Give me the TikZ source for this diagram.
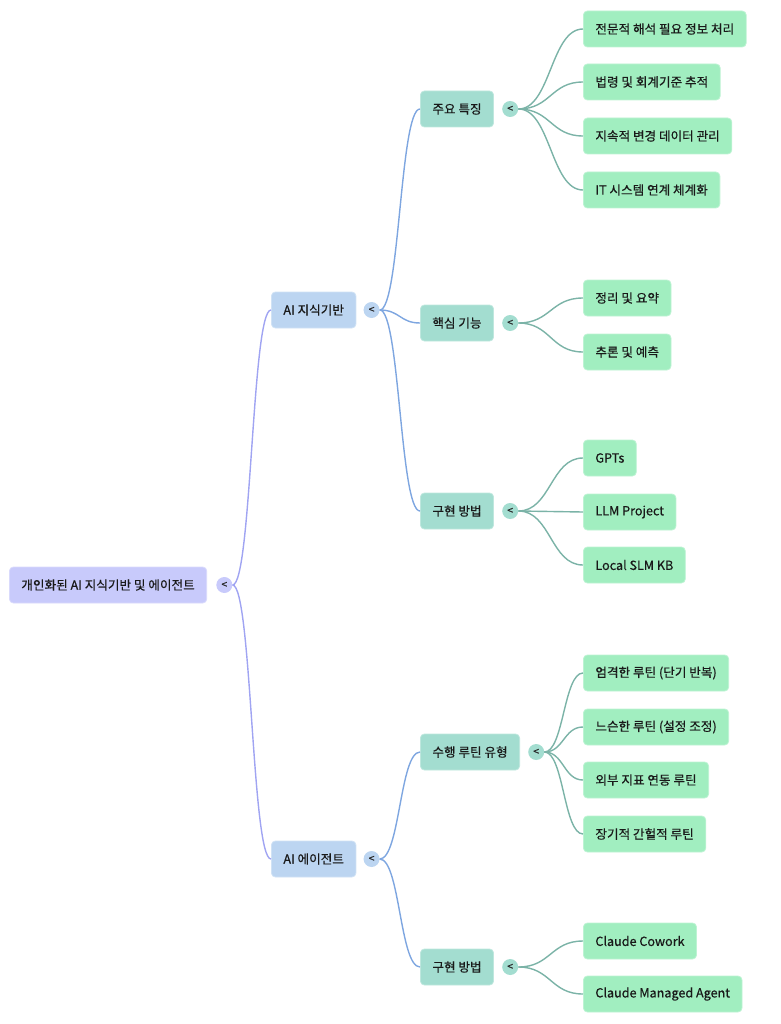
\documentclass[tikz,border=0pt]{standalone}
\usepackage{fontspec}
\setmainfont{Noto Sans CJK KR}
\newfontfamily\boxfont{Noto Sans CJK KR}[FakeBold=0.5]
\usetikzlibrary{positioning,calc}

\definecolor{rootfill}{HTML}{C8CAFB}
\definecolor{rootline}{HTML}{A0A4F2}
\definecolor{bandfill}{HTML}{BCD5F1}
\definecolor{bandline}{HTML}{7EA6E0}
\definecolor{groupfill}{HTML}{A3DDD0}
\definecolor{groupline}{HTML}{7BB3A7}
\definecolor{leaffill}{HTML}{A1EEC0}

\tikzset{
  box/.style={rounded corners=4pt, minimum height=36pt, inner xsep=12pt, anchor=west,
    line width=0.8pt, text=black!90, font=\boxfont\fontsize{12.6}{14}\selectfont},
  rootbox/.style={box, fill=rootfill, draw=rootfill!70!white},
  bandbox/.style={box, fill=bandfill, draw=bandfill!70!white},
  groupbox/.style={box, fill=groupfill, draw=groupfill!70!white},
  leafbox/.style={box, fill=leaffill, draw=leaffill!70!white},
  knob/.style={circle, minimum size=16pt, inner sep=0pt, text=black!85,
    font=\boxfont\fontsize{10.5}{10}\selectfont},
  curvy/.style={to path={let \p1=(\tikztostart), \p2=(\tikztotarget) in
    (\p1) .. controls ({0.5*\x1+0.5*\x2},\y1) and ({0.5*\x1+0.5*\x2},\y2) .. (\p2)}},
  rootlink/.style={curvy, draw=rootline, line width=1.4pt},
  bandlink/.style={curvy, draw=bandline, line width=1.4pt},
  grouplink/.style={curvy, draw=groupline, line width=1.4pt},
}

\begin{document}
\begin{tikzpicture}[x=1pt,y=-1pt]
\useasboundingbox (0,0) rectangle (780,1024);

% Racine
\node[rootbox] (root) at (9,585) {개인화된 AI 지식기반 및 에이전트};
\node[knob, fill=rootfill, right=9pt of root] (rootk) {<};

% Branches
\node[bandbox] (kb) at (271,310) {AI 지식기반};
\node[knob, fill=bandfill, right=7pt of kb] (kbk) {<};
\node[bandbox] (agent) at (271,859) {AI 에이전트};
\node[knob, fill=bandfill, right=7pt of agent] (agentk) {<};

% Groupes
\node[groupbox] (feat) at (420,109) {주요 특징};
\node[knob, fill=groupfill, right=8pt of feat] (featk) {<};
\node[groupbox] (core) at (420,323) {핵심 기능};
\node[knob, fill=groupfill, right=8pt of core] (corek) {<};
\node[groupbox] (impl) at (420,511) {구현 방법};
\node[knob, fill=groupfill, right=8pt of impl] (implk) {<};
\node[groupbox] (routine) at (420,752) {수행 루틴 유형};
\node[knob, fill=groupfill, right=8pt of routine] (routinek) {<};
\node[groupbox] (tool) at (420,967) {구현 방법};
\node[knob, fill=groupfill, right=8pt of tool] (toolk) {<};

% Feuilles
\node[leafbox] (feat1) at (583,29) {전문적 해석 필요 정보 처리};
\node[leafbox] (feat2) at (583,82) {법령 및 회계기준 추적};
\node[leafbox] (feat3) at (583,136) {지속적 변경 데이터 관리};
\node[leafbox] (feat4) at (583,190) {IT 시스템 연계 체계화};
\node[leafbox] (core1) at (583,298) {정리 및 요약};
\node[leafbox] (core2) at (583,352) {추론 및 예측};
\node[leafbox] (impl1) at (583,458) {GPTs};
\node[leafbox] (impl2) at (583,512) {LLM Project};
\node[leafbox] (impl3) at (583,565) {Local SLM KB};
\node[leafbox] (routine1) at (583,673) {엄격한 루틴 (단기 반복)};
\node[leafbox] (routine2) at (583,727) {느슨한 루틴 (설정 조정)};
\node[leafbox] (routine3) at (583,780) {외부 지표 연동 루틴};
\node[leafbox] (routine4) at (583,834) {장기적 간헐적 루틴};
\node[leafbox] (tool1) at (583,941) {Claude Cowork};
\node[leafbox] (tool2) at (583,994) {Claude Managed Agent};

% Liens
\draw[rootlink] (rootk.east) to (kb.west);
\draw[rootlink] (rootk.east) to (agent.west);
\foreach \g in {feat,core,impl} \draw[bandlink] (kbk.east) to (\g.west);
\foreach \g in {routine,tool} \draw[bandlink] (agentk.east) to (\g.west);
\foreach \l in {feat1,feat2,feat3,feat4} \draw[grouplink] (featk.east) to (\l.west);
\foreach \l in {core1,core2} \draw[grouplink] (corek.east) to (\l.west);
\foreach \l in {impl1,impl2,impl3} \draw[grouplink] (implk.east) to (\l.west);
\foreach \l in {routine1,routine2,routine3,routine4} \draw[grouplink] (routinek.east) to (\l.west);
\foreach \l in {tool1,tool2} \draw[grouplink] (toolk.east) to (\l.west);

\end{tikzpicture}
\end{document}
